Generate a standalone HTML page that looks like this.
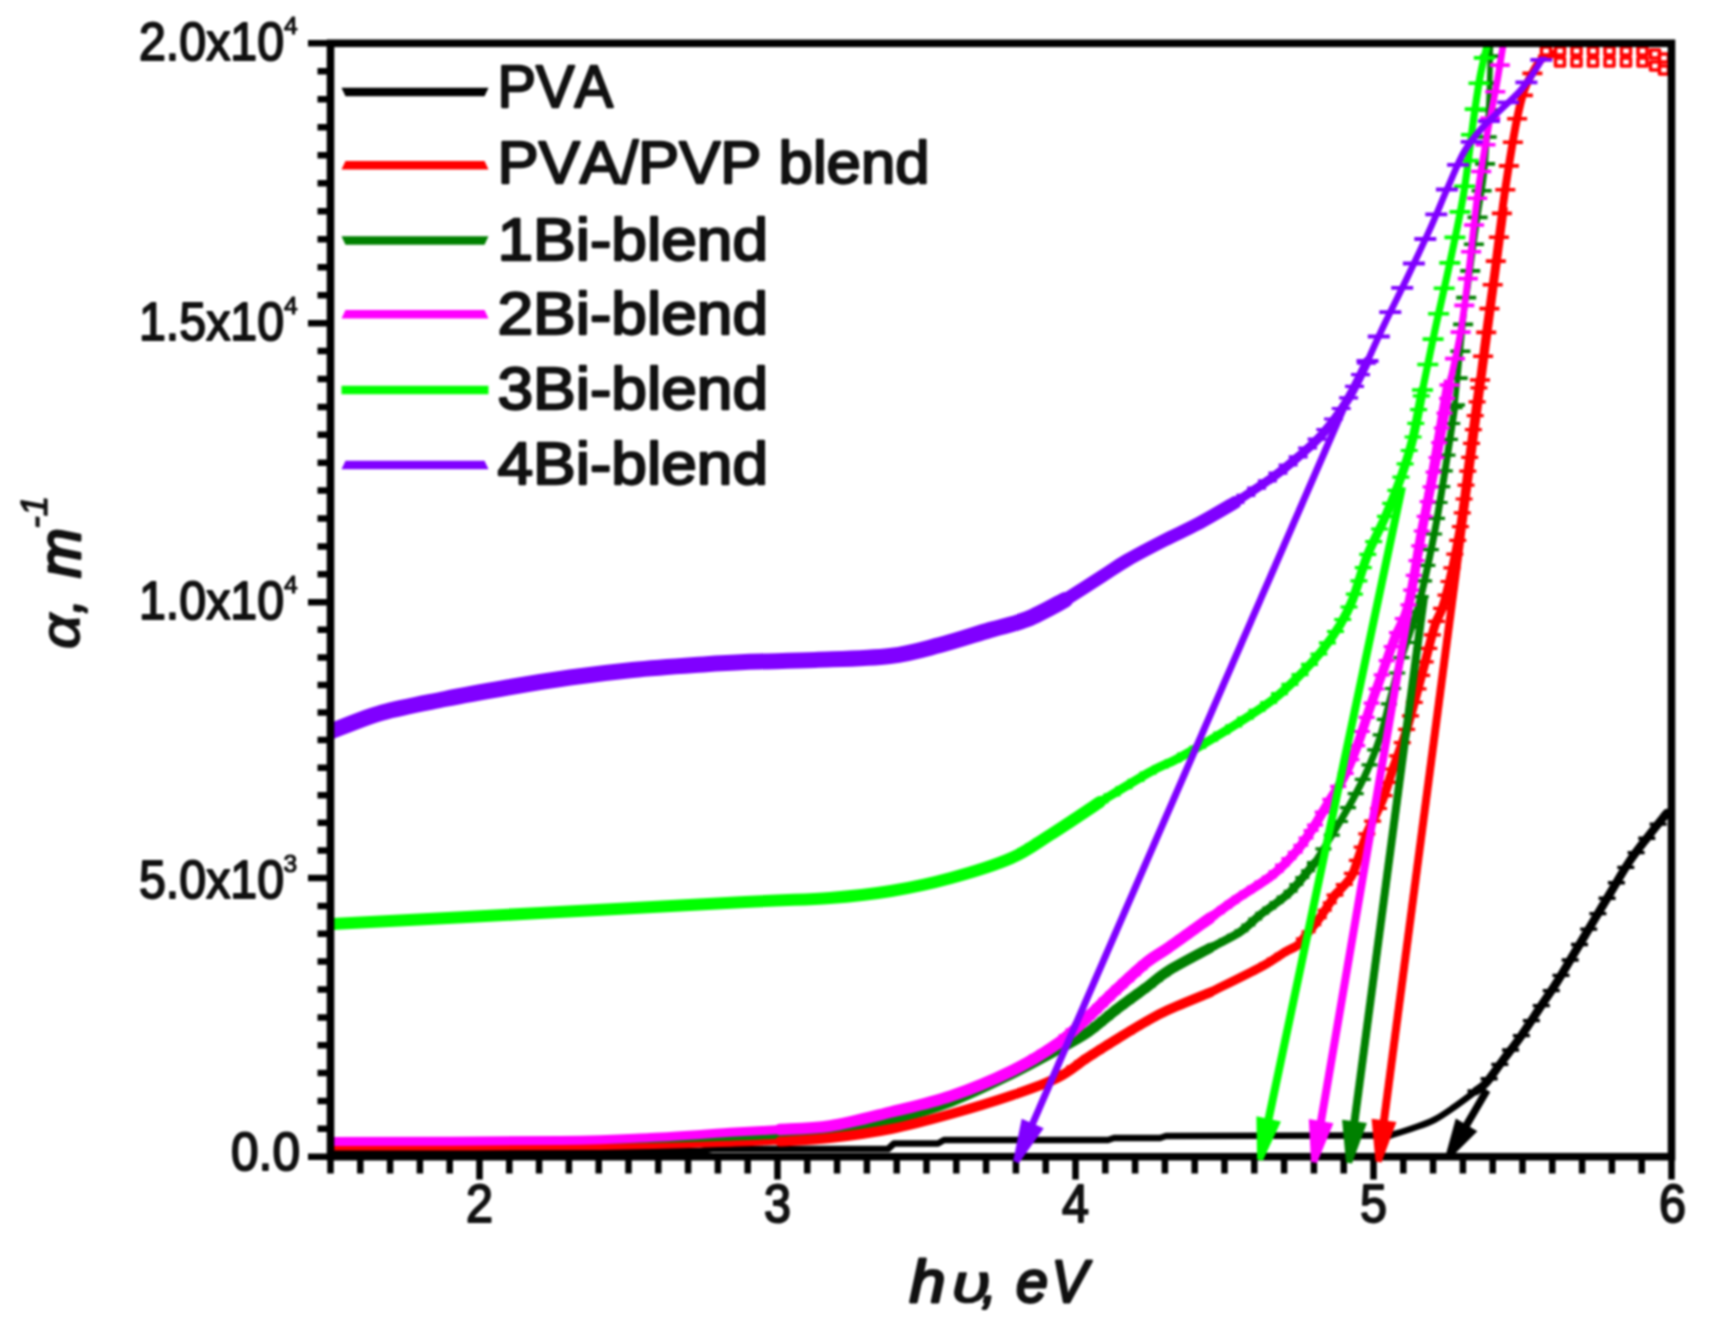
<!DOCTYPE html>
<html><head><meta charset="utf-8"><title>Absorption coefficient plot</title>
<style>
html,body{margin:0;padding:0;background:#fff}
body{width:1712px;height:1326px;overflow:hidden}
svg{display:block}
text{font-family:"Liberation Sans",sans-serif;fill:#111}
.lg{font-size:60px;font-kerning:none;stroke:#111;stroke-width:2.3px;stroke-linejoin:round}
.tk{font-size:53px;stroke:#111;stroke-width:2px;stroke-linejoin:round}
.sp{font-size:24.5px;stroke:#111;stroke-width:1.2px}
.ti{font-size:60px;font-style:italic;stroke:#111;stroke-width:2.8px;stroke-linejoin:round}
.gr{font-size:55px;stroke-width:1.7px}
.cm{font-size:50px}
.ts{font-size:37px;font-style:italic;stroke:#111;stroke-width:1.3px}
</style></head><body>
<svg width="1712" height="1326" viewBox="0 0 1712 1326">
<rect width="1712" height="1326" fill="#fff"/>
<defs><filter id="soft" x="0" y="0" width="1712" height="1326" filterUnits="userSpaceOnUse" color-interpolation-filters="sRGB"><feGaussianBlur stdDeviation="0.9"/></filter><clipPath id="cp"><rect x="330.5" y="43.3" width="1341" height="1117.4"/></clipPath></defs>
<g filter="url(#soft)">
<rect width="1712" height="1326" fill="#fff"/>
<g clip-path="url(#cp)" fill="none" stroke-linejoin="round" stroke-linecap="round">
<path d="M332.0 1151.0 L700.0 1151.0 L712.0 1149.0 L888.0 1149.0 L894.0 1143.5 L938.0 1143.5 L944.0 1140.0 L1108.0 1140.0 L1114.0 1138.0 L1160.0 1138.0 L1166.0 1136.0 L1390.0 1135.5" stroke="#000" stroke-width="6.5"/>
<path d="M1390.0 1135.5 C1393.7 1134.3 1404.7 1131.1 1412.0 1128.5 C1419.3 1125.9 1426.8 1123.7 1434.0 1120.0 C1441.2 1116.3 1448.0 1111.3 1455.0 1106.5 C1462.0 1101.7 1472.5 1093.6 1476.0 1091.0" stroke="#000" stroke-width="6.5"/>
<path d="M1476.0 1091.0 C1477.7 1089.7 1481.6 1088.0 1486.0 1083.0 C1490.4 1078.0 1496.8 1068.4 1502.6 1060.7 C1508.4 1053.0 1514.7 1045.1 1520.7 1036.6 C1526.7 1028.0 1532.8 1018.5 1538.8 1009.4 C1544.8 1000.3 1551.0 991.6 1557.0 982.0 C1563.0 972.4 1569.0 962.0 1575.0 952.0 C1581.0 942.0 1587.0 931.9 1593.0 921.9 C1599.0 911.9 1604.9 901.8 1611.0 891.7 C1617.1 881.6 1623.3 870.6 1629.4 861.5 C1635.5 852.4 1641.2 845.4 1647.5 837.3 C1653.8 829.2 1663.8 817.0 1667.0 813.0" stroke="#000" stroke-width="8.5"/>
<path d="M1467.5 1091.0 h17.0 M1480.6 1078.8 h17.0 M1491.3 1064.4 h17.0 M1502.1 1050.0 h17.0 M1512.9 1035.6 h17.0 M1522.9 1020.6 h17.0 M1532.8 1005.6 h17.0 M1542.8 990.6 h17.0 M1552.5 975.4 h17.0 M1561.7 960.0 h17.0 M1571.0 944.5 h17.0 M1580.2 929.1 h17.0 M1589.4 913.6 h17.0 M1598.6 898.2 h17.0 M1607.9 882.8 h17.0 M1617.3 867.4 h17.0 M1627.6 852.6 h17.0 M1638.3 838.2 h17.0 M1649.6 824.1 h17.0" stroke="#000" stroke-width="3.4" fill="none" stroke-linecap="butt"/>
<path d="M332.0 1146.0 C385.0 1145.5 582.8 1144.2 650.0 1143.0 C717.2 1141.8 713.3 1139.6 735.0 1138.5 C756.7 1137.4 772.5 1136.8 780.0 1136.5" stroke="#008000" stroke-width="6"/>
<path d="M780.0 1136.5 C788.3 1135.9 811.5 1135.8 830.0 1133.0 C848.5 1130.2 870.8 1125.2 891.0 1120.0 C911.2 1114.8 930.9 1109.2 951.0 1101.5 C971.1 1093.8 993.8 1082.6 1011.5 1074.0 C1029.2 1065.4 1044.4 1056.8 1057.0 1050.0 C1069.6 1043.2 1077.0 1039.8 1087.0 1033.0 C1097.0 1026.2 1107.0 1016.7 1117.0 1009.0 C1127.0 1001.3 1138.5 993.3 1147.0 987.0 C1155.5 980.7 1157.5 977.5 1168.0 971.0 C1178.5 964.5 1203.0 951.8 1210.0 948.0" stroke="#008000" stroke-width="10.5"/>
<path d="M1210.0 948.0 C1215.0 945.3 1231.7 937.5 1240.0 932.0 C1248.3 926.5 1251.7 921.7 1260.0 915.0 C1268.3 908.3 1280.8 900.8 1290.0 892.0 C1299.2 883.2 1310.8 867.4 1315.0 862.5" stroke="#008000" stroke-width="8.5"/>
<path d="M997.0 1077.2 h15.0 M1005.1 1073.4 h15.0 M1013.1 1069.2 h15.0 M1021.0 1065.0 h15.0 M1029.0 1060.8 h15.0 M1037.0 1056.6 h15.0 M1044.9 1052.4 h15.0 M1052.8 1048.1 h15.0 M1060.7 1043.7 h15.0 M1068.5 1039.2 h15.0 M1076.3 1034.8 h15.0 M1083.7 1029.7 h15.0 M1090.7 1024.0 h15.0 M1097.7 1018.4 h15.0 M1104.8 1012.8 h15.0 M1111.9 1007.3 h15.0 M1119.1 1002.0 h15.0 M1126.4 996.6 h15.0 M1133.6 991.3 h15.0 M1140.9 986.0 h15.0 M1148.0 980.5 h15.0 M1155.2 975.0 h15.0 M1162.5 969.9 h15.0 M1170.4 965.6 h15.0 M1178.3 961.2 h15.0 M1186.2 956.9 h15.0 M1194.1 952.6 h15.0 M1202.0 948.3 h15.0" stroke="#008000" stroke-width="3" fill="none" stroke-linecap="butt"/>
<path d="M1203.0 948.0 h14.0 M1210.9 943.8 h14.0 M1218.9 939.5 h14.0 M1226.8 935.3 h14.0 M1234.5 930.7 h14.0 M1241.4 924.9 h14.0 M1248.2 919.0 h14.0 M1255.2 913.3 h14.0 M1262.3 907.9 h14.0 M1269.5 902.4 h14.0 M1276.6 896.9 h14.0 M1283.6 891.3 h14.0 M1289.4 884.4 h14.0 M1295.3 877.5 h14.0 M1301.1 870.7 h14.0 M1306.9 863.8 h14.0" stroke="#008000" stroke-width="3" fill="none" stroke-linecap="butt"/>
<path d="M1315.0 862.5 C1318.3 857.1 1328.8 840.4 1335.0 830.0 C1341.2 819.6 1347.1 810.0 1352.5 800.0 C1357.9 790.0 1362.9 780.4 1367.5 770.0 C1372.1 759.6 1376.2 749.2 1380.0 737.5 C1383.8 725.8 1386.7 712.5 1390.0 700.0 C1393.3 687.5 1396.7 673.8 1400.0 662.5 C1403.3 651.2 1406.7 642.9 1410.0 632.5 C1413.3 622.1 1415.8 617.1 1420.0 600.0 C1424.2 582.9 1430.4 554.2 1435.0 530.0 C1439.6 505.8 1444.2 475.8 1447.5 455.0 C1450.8 434.2 1453.8 413.3 1455.0 405.0" stroke="#008000" stroke-width="7"/>
<path d="M1455.0 405.0 C1455.8 396.7 1458.3 371.7 1460.0 355.0 C1461.7 338.3 1463.7 316.3 1465.0 305.0 C1466.3 293.7 1465.9 301.7 1468.0 287.0 C1470.1 272.3 1474.9 236.5 1477.7 217.0 C1480.5 197.5 1482.8 189.5 1484.7 170.0 C1486.6 150.5 1488.0 120.7 1489.0 100.0 C1490.0 79.3 1490.2 55.0 1490.5 46.0" stroke="#008000" stroke-width="5.5"/>
<path d="M1307.0 862.5 h16.0 M1315.4 848.9 h16.0 M1323.8 835.2 h16.0 M1332.0 821.5 h16.0 M1340.0 807.7 h16.0 M1347.7 793.6 h16.0 M1354.8 779.3 h16.0 M1361.5 764.8 h16.0 M1367.2 749.9 h16.0 M1372.7 734.8 h16.0 M1376.8 719.4 h16.0 M1381.0 703.9 h16.0 M1385.1 688.5 h16.0 M1389.2 673.0 h16.0 M1393.6 657.6 h16.0 M1398.7 642.5 h16.0 M1403.6 627.2 h16.0 M1408.3 611.9 h16.0 M1412.7 596.6 h16.0 M1416.1 580.9 h16.0 M1419.4 565.3 h16.0 M1422.8 549.6 h16.0 M1426.1 534.0 h16.0 M1429.0 518.3 h16.0 M1431.6 502.5 h16.0 M1434.2 486.7 h16.0 M1436.8 470.9 h16.0 M1439.5 455.1 h16.0 M1441.9 439.3 h16.0 M1444.2 423.5 h16.0 M1446.6 407.7 h16.0" stroke="#008000" stroke-width="3.2" fill="none" stroke-linecap="butt"/>
<path d="M1445.0 405.0 h20.0 M1447.7 378.1 h20.0 M1450.4 351.3 h20.0 M1453.1 324.4 h20.0 M1456.2 297.6 h20.0 M1460.2 270.9 h20.0 M1463.9 244.2 h20.0 M1467.6 217.4 h20.0 M1471.6 190.7 h20.0 M1475.1 163.9 h20.0 M1476.7 137.0 h20.0 M1478.4 110.0 h20.0 M1479.5 83.1 h20.0 M1480.2 56.1 h20.0" stroke="#008000" stroke-width="3.6" fill="none" stroke-linecap="butt"/>
<path d="M332.0 1147.5 C376.7 1147.4 532.8 1147.7 600.0 1147.0 C667.2 1146.3 705.0 1144.4 735.0 1143.5 C765.0 1142.6 772.5 1141.8 780.0 1141.5" stroke="#ff0000" stroke-width="6"/>
<path d="M780.0 1141.5 C788.3 1140.9 811.5 1140.1 830.0 1138.0 C848.5 1135.9 870.8 1133.0 891.0 1129.0 C911.2 1125.0 930.9 1119.6 951.0 1114.0 C971.1 1108.4 993.8 1101.5 1011.5 1095.5 C1029.2 1089.5 1044.4 1084.2 1057.0 1078.0 C1069.6 1071.8 1077.0 1064.5 1087.0 1058.0 C1097.0 1051.5 1107.0 1045.2 1117.0 1039.0 C1127.0 1032.8 1138.5 1025.8 1147.0 1021.0 C1155.5 1016.2 1157.5 1014.8 1168.0 1010.0 C1178.5 1005.2 1203.0 995.4 1210.0 992.5" stroke="#ff0000" stroke-width="10"/>
<path d="M1210.0 992.5 C1218.3 988.3 1247.5 974.2 1260.0 967.5 C1272.5 960.8 1278.7 955.8 1285.0 952.0 C1291.3 948.2 1294.5 947.8 1298.0 945.0 C1301.5 942.2 1302.5 939.3 1306.0 935.0 C1309.5 930.7 1314.2 925.7 1319.0 919.0 C1323.8 912.3 1332.3 899.0 1335.0 895.0" stroke="#ff0000" stroke-width="9"/>
<path d="M992.6 1099.0 h15.0 M1001.2 1096.3 h15.0 M1009.7 1093.3 h15.0 M1018.1 1090.1 h15.0 M1026.5 1086.8 h15.0 M1034.9 1083.6 h15.0 M1043.3 1080.4 h15.0 M1051.5 1076.7 h15.0 M1058.9 1071.7 h15.0 M1066.4 1066.7 h15.0 M1073.9 1061.7 h15.0 M1081.4 1056.8 h15.0 M1089.0 1052.0 h15.0 M1096.7 1047.1 h15.0 M1104.3 1042.3 h15.0 M1111.9 1037.6 h15.0 M1119.6 1032.9 h15.0 M1127.3 1028.3 h15.0 M1135.0 1023.7 h15.0 M1142.9 1019.2 h15.0 M1150.8 1015.1 h15.0 M1158.8 1010.9 h15.0 M1167.1 1007.3 h15.0 M1175.4 1003.8 h15.0 M1183.7 1000.3 h15.0 M1192.0 996.9 h15.0 M1200.3 993.4 h15.0" stroke="#ff0000" stroke-width="3" fill="none" stroke-linecap="butt"/>
<path d="M1203.0 992.5 h14.0 M1211.0 988.5 h14.0 M1219.1 984.5 h14.0 M1227.1 980.4 h14.0 M1235.2 976.4 h14.0 M1243.2 972.4 h14.0 M1251.3 968.4 h14.0 M1259.0 963.8 h14.0 M1266.7 959.0 h14.0 M1274.3 954.3 h14.0 M1282.1 949.8 h14.0 M1290.0 945.5 h14.0 M1295.9 938.8 h14.0 M1301.6 931.8 h14.0 M1307.3 924.8 h14.0 M1312.8 917.8 h14.0 M1317.8 910.3 h14.0 M1322.8 902.8 h14.0 M1327.8 895.3 h14.0" stroke="#ff0000" stroke-width="3" fill="none" stroke-linecap="butt"/>
<path d="M1335.0 895.0 C1337.7 892.0 1347.0 883.5 1351.0 877.0 C1355.0 870.5 1356.2 863.5 1359.0 856.0 C1361.8 848.5 1363.6 841.3 1367.5 832.0 C1371.4 822.7 1378.3 810.3 1382.5 800.0 C1386.7 789.7 1388.8 780.8 1392.5 770.0 C1396.2 759.2 1401.2 746.7 1405.0 735.0 C1408.8 723.3 1411.7 712.1 1415.0 700.0 C1418.3 687.9 1421.7 675.0 1425.0 662.5 C1428.3 650.0 1431.7 635.4 1435.0 625.0 C1438.3 614.6 1440.8 615.8 1445.0 600.0 C1449.2 584.2 1455.8 554.2 1460.0 530.0 C1464.2 505.8 1466.7 480.0 1470.0 455.0 C1473.3 430.0 1478.3 392.5 1480.0 380.0" stroke="#ff0000" stroke-width="9"/>
<path d="M1480.0 380.0 C1481.2 370.3 1485.2 339.4 1487.5 322.0 C1489.8 304.6 1491.4 295.0 1494.0 275.5 C1496.6 256.0 1500.3 224.5 1503.0 205.0 C1505.7 185.5 1507.7 172.9 1510.0 158.6 C1512.3 144.3 1514.7 130.3 1517.0 119.0 C1519.3 107.7 1521.2 99.2 1524.0 91.0 C1526.8 82.8 1530.8 75.5 1534.0 70.0 C1537.2 64.5 1539.2 60.8 1543.0 58.0 C1546.8 55.2 1554.7 53.8 1557.0 53.0" stroke="#ff0000" stroke-width="8"/>
<path d="M1326.5 895.0 h17.0 M1335.8 884.5 h17.0 M1343.9 873.3 h17.0 M1348.9 860.3 h17.0 M1353.7 847.1 h17.0 M1358.3 833.9 h17.0 M1364.1 821.1 h17.0 M1370.0 808.5 h17.0 M1375.5 795.6 h17.0 M1379.9 782.3 h17.0 M1384.3 769.0 h17.0 M1389.1 755.9 h17.0 M1393.8 742.7 h17.0 M1398.1 729.4 h17.0 M1402.0 715.9 h17.0 M1405.8 702.4 h17.0 M1409.5 688.9 h17.0 M1413.1 675.4 h17.0 M1416.7 661.9 h17.0 M1420.3 648.4 h17.0 M1423.9 634.8 h17.0 M1427.9 621.4 h17.0 M1433.1 608.4 h17.0 M1437.5 595.2 h17.0 M1440.5 581.5 h17.0 M1443.4 567.8 h17.0 M1446.3 554.1 h17.0 M1449.3 540.4 h17.0 M1451.9 526.7 h17.0 M1453.8 512.8 h17.0 M1455.6 499.0 h17.0 M1457.5 485.1 h17.0 M1459.3 471.2 h17.0 M1461.2 457.3 h17.0 M1463.0 443.4 h17.0 M1464.9 429.6 h17.0 M1466.7 415.7 h17.0 M1468.6 401.8 h17.0 M1470.4 387.9 h17.0" stroke="#ff0000" stroke-width="3.2" fill="none" stroke-linecap="butt"/>
<path d="M1470.0 380.0 h20.0 M1473.1 356.2 h20.0 M1476.2 332.4 h20.0 M1479.4 308.6 h20.0 M1482.7 284.8 h20.0 M1485.8 261.1 h20.0 M1488.9 237.2 h20.0 M1491.9 213.4 h20.0 M1495.3 189.7 h20.0 M1498.9 165.9 h20.0 M1502.9 142.3 h20.0 M1507.1 118.7 h20.0 M1512.9 95.4 h20.0 M1522.4 73.4 h20.0 M1537.9 56.2 h20.0" stroke="#ff0000" stroke-width="3.6" fill="none" stroke-linecap="butt"/>
<path d="M332.0 1141.5 C370.0 1141.3 507.0 1141.2 560.0 1140.5 C613.0 1139.8 620.8 1138.9 650.0 1137.5 C679.2 1136.1 713.3 1133.3 735.0 1132.0 C756.7 1130.7 772.5 1129.9 780.0 1129.5" stroke="#ff00ff" stroke-width="9"/>
<path d="M780.0 1129.5 C788.3 1128.9 811.5 1128.9 830.0 1126.0 C848.5 1123.1 870.8 1117.0 891.0 1112.0 C911.2 1107.0 930.9 1102.8 951.0 1096.0 C971.1 1089.2 993.8 1079.7 1011.5 1071.0 C1029.2 1062.3 1044.4 1052.8 1057.0 1044.0 C1069.6 1035.2 1077.0 1027.2 1087.0 1018.0 C1097.0 1008.8 1107.0 998.3 1117.0 989.0 C1127.0 979.7 1138.5 968.8 1147.0 962.0 C1155.5 955.2 1157.5 955.3 1168.0 948.0 C1178.5 940.7 1203.0 923.0 1210.0 918.0" stroke="#ff00ff" stroke-width="11.5"/>
<path d="M1210.0 918.0 C1214.2 915.0 1224.6 907.2 1235.0 900.0 C1245.4 892.8 1262.1 883.3 1272.5 875.0 C1282.9 866.7 1290.4 858.3 1297.5 850.0 C1304.6 841.7 1312.1 829.2 1315.0 825.0" stroke="#ff00ff" stroke-width="9.5"/>
<path d="M997.7 1073.4 h16.0 M1005.9 1069.6 h16.0 M1013.6 1065.0 h16.0 M1021.3 1060.4 h16.0 M1029.1 1055.8 h16.0 M1036.8 1051.2 h16.0 M1044.5 1046.6 h16.0 M1051.9 1041.5 h16.0 M1058.7 1035.6 h16.0 M1065.5 1029.7 h16.0 M1072.3 1023.8 h16.0 M1079.1 1017.9 h16.0 M1085.6 1011.7 h16.0 M1092.0 1005.4 h16.0 M1098.5 999.1 h16.0 M1105.0 992.9 h16.0 M1111.5 986.7 h16.0 M1118.2 980.7 h16.0 M1124.9 974.7 h16.0 M1131.6 968.7 h16.0 M1138.3 962.6 h16.0 M1145.7 957.5 h16.0 M1153.2 952.5 h16.0 M1160.7 947.5 h16.0 M1168.0 942.3 h16.0 M1175.3 937.1 h16.0 M1182.6 931.8 h16.0 M1189.9 926.6 h16.0 M1197.3 921.4 h16.0" stroke="#ff00ff" stroke-width="3" fill="none" stroke-linecap="butt"/>
<path d="M1202.5 918.0 h15.0 M1209.8 912.7 h15.0 M1217.1 907.5 h15.0 M1224.4 902.2 h15.0 M1231.8 897.1 h15.0 M1239.3 892.1 h15.0 M1246.8 887.1 h15.0 M1254.3 882.1 h15.0 M1261.8 877.1 h15.0 M1268.6 871.4 h15.0 M1275.0 865.0 h15.0 M1281.4 858.6 h15.0 M1287.7 852.3 h15.0 M1293.3 845.3 h15.0 M1298.5 837.9 h15.0 M1303.6 830.5 h15.0" stroke="#ff00ff" stroke-width="3" fill="none" stroke-linecap="butt"/>
<path d="M1315.0 825.0 C1317.5 820.8 1325.0 808.3 1330.0 800.0 C1335.0 791.7 1340.4 784.2 1345.0 775.0 C1349.6 765.8 1353.3 756.2 1357.5 745.0 C1361.7 733.8 1365.8 719.6 1370.0 707.5 C1374.2 695.4 1378.3 684.2 1382.5 672.5 C1386.7 660.8 1390.7 648.8 1395.0 637.5 C1399.3 626.2 1404.0 622.9 1408.5 605.0 C1413.0 587.1 1417.2 555.0 1422.0 530.0 C1426.8 505.0 1432.4 479.2 1437.0 455.0 C1441.6 430.8 1447.4 396.7 1449.5 385.0" stroke="#ff00ff" stroke-width="9.5"/>
<path d="M1449.5 385.0 C1451.4 375.8 1457.8 349.2 1461.0 330.0 C1464.2 310.8 1466.2 292.7 1469.0 270.0 C1471.8 247.3 1474.7 216.5 1477.7 194.0 C1480.7 171.5 1484.0 152.7 1487.0 135.0 C1490.0 117.3 1493.3 102.8 1496.0 88.0 C1498.7 73.2 1501.8 53.0 1503.0 46.0" stroke="#ff00ff" stroke-width="6.8"/>
<path d="M1307.0 825.0 h16.0 M1314.7 812.1 h16.0 M1322.4 799.3 h16.0 M1330.2 786.4 h16.0 M1337.7 773.4 h16.0 M1343.4 759.6 h16.0 M1349.2 745.7 h16.0 M1354.0 731.5 h16.0 M1358.7 717.3 h16.0 M1363.6 703.1 h16.0 M1368.6 689.0 h16.0 M1373.7 674.9 h16.0 M1378.7 660.7 h16.0 M1383.7 646.6 h16.0 M1389.0 632.6 h16.0 M1394.8 618.7 h16.0 M1400.5 604.9 h16.0 M1403.2 590.1 h16.0 M1405.8 575.3 h16.0 M1408.5 560.6 h16.0 M1411.2 545.8 h16.0 M1413.8 531.0 h16.0 M1416.7 516.3 h16.0 M1419.7 501.6 h16.0 M1422.6 486.9 h16.0 M1425.6 472.2 h16.0 M1428.5 457.5 h16.0 M1431.2 442.7 h16.0 M1433.8 428.0 h16.0 M1436.5 413.2 h16.0 M1439.1 398.4 h16.0" stroke="#ff00ff" stroke-width="3.2" fill="none" stroke-linecap="butt"/>
<path d="M1439.5 385.0 h20.0 M1445.0 358.6 h20.0 M1450.6 332.1 h20.0 M1454.3 305.4 h20.0 M1457.8 278.6 h20.0 M1461.1 251.8 h20.0 M1464.1 225.0 h20.0 M1467.2 198.2 h20.0 M1471.2 171.5 h20.0 M1475.5 144.8 h20.0 M1480.2 118.2 h20.0 M1485.3 91.7 h20.0 M1489.8 65.1 h20.0" stroke="#ff00ff" stroke-width="3.6" fill="none" stroke-linecap="butt"/>
<path d="M332.0 924.0 C366.7 922.2 471.2 916.7 540.0 913.0 C608.8 909.3 696.7 904.5 745.0 902.0 C793.3 899.5 805.7 899.8 830.0 898.0 C854.3 896.2 870.8 894.3 891.0 891.0 C911.2 887.7 930.9 883.5 951.0 878.0 C971.1 872.5 995.0 865.2 1011.5 858.0 C1028.0 850.8 1035.2 844.3 1050.0 835.0 C1064.8 825.7 1091.7 807.5 1100.0 802.0" stroke="#00ff00" stroke-width="12"/>
<path d="M976.2 866.8 h17.0 M984.8 864.0 h17.0 M993.3 861.2 h17.0 M1001.9 858.4 h17.0 M1009.7 854.0 h17.0 M1017.4 849.4 h17.0 M1025.2 844.8 h17.0 M1032.9 840.1 h17.0 M1040.6 835.5 h17.0 M1048.1 830.6 h17.0 M1055.7 825.7 h17.0 M1063.2 820.7 h17.0 M1070.7 815.7 h17.0 M1078.2 810.8 h17.0 M1085.7 805.8 h17.0" stroke="#00ff00" stroke-width="3" fill="none" stroke-linecap="butt"/>
<path d="M1100.0 802.0 C1108.3 797.0 1137.5 779.0 1150.0 772.0 C1162.5 765.0 1167.1 764.1 1175.0 760.0 C1182.9 755.9 1187.5 753.3 1197.5 747.5 C1207.5 741.7 1222.5 732.9 1235.0 725.0 C1247.5 717.1 1262.1 707.9 1272.5 700.0 C1282.9 692.1 1289.2 685.8 1297.5 677.5 C1305.8 669.2 1315.4 658.8 1322.5 650.0 C1329.6 641.2 1335.0 633.3 1340.0 625.0 C1345.0 616.7 1347.9 611.7 1352.5 600.0 C1357.1 588.3 1362.1 568.8 1367.5 555.0 C1372.9 541.2 1379.6 530.0 1385.0 517.5 C1390.4 505.0 1395.4 492.9 1400.0 480.0 C1404.6 467.1 1408.8 455.0 1412.5 440.0 C1416.2 425.0 1420.8 398.3 1422.5 390.0" stroke="#00ff00" stroke-width="9"/>
<path d="M1422.5 390.0 C1424.6 380.0 1430.5 351.0 1435.0 330.0 C1439.5 309.0 1444.8 286.7 1449.6 264.0 C1454.4 241.3 1459.7 217.4 1463.6 194.0 C1467.5 170.6 1470.3 143.0 1473.0 123.5 C1475.7 104.0 1477.7 89.9 1480.0 77.0 C1482.3 64.1 1485.8 51.2 1487.0 46.0" stroke="#00ff00" stroke-width="7.2"/>
<path d="M1091.5 802.0 h17.0 M1103.5 794.8 h17.0 M1115.5 787.6 h17.0 M1127.5 780.4 h17.0 M1139.5 773.2 h17.0 M1152.0 766.9 h17.0 M1164.7 760.9 h17.0 M1177.0 754.2 h17.0 M1189.2 747.4 h17.0 M1201.2 740.2 h17.0 M1213.2 733.0 h17.0 M1225.2 725.8 h17.0 M1236.9 718.1 h17.0 M1248.5 710.3 h17.0 M1260.2 702.5 h17.0 M1271.0 693.7 h17.0 M1281.4 684.3 h17.0 M1291.5 674.7 h17.0 M1301.0 664.3 h17.0 M1310.4 654.0 h17.0 M1318.9 642.9 h17.0 M1327.0 631.5 h17.0 M1334.2 619.5 h17.0 M1340.5 607.0 h17.0 M1345.9 594.2 h17.0 M1350.4 580.9 h17.0 M1354.8 567.6 h17.0 M1359.3 554.3 h17.0 M1365.2 541.7 h17.0 M1371.1 529.0 h17.0 M1377.0 516.3 h17.0 M1382.2 503.3 h17.0 M1387.4 490.3 h17.0 M1392.4 477.2 h17.0 M1396.6 463.8 h17.0 M1400.7 450.5 h17.0 M1404.6 437.0 h17.0 M1407.3 423.3 h17.0 M1410.1 409.6 h17.0 M1412.8 395.8 h17.0" stroke="#00ff00" stroke-width="3.2" fill="none" stroke-linecap="butt"/>
<path d="M1412.0 390.0 h21.0 M1417.3 364.5 h21.0 M1422.6 339.1 h21.0 M1428.1 313.7 h21.0 M1433.7 288.3 h21.0 M1439.3 262.9 h21.0 M1444.4 237.4 h21.0 M1449.5 211.9 h21.0 M1454.1 186.3 h21.0 M1457.6 160.6 h21.0 M1461.0 134.8 h21.0 M1464.7 109.1 h21.0 M1468.5 83.3 h21.0 M1473.8 57.9 h21.0" stroke="#00ff00" stroke-width="3.6" fill="none" stroke-linecap="butt"/>
<path d="M332.0 731.0 C340.4 727.9 363.7 717.8 382.5 712.5 C401.3 707.2 424.2 703.2 445.0 699.0 C465.8 694.8 486.7 691.1 507.5 687.5 C528.3 683.9 549.2 680.4 570.0 677.5 C590.8 674.6 611.7 672.1 632.5 670.0 C653.3 667.9 676.2 666.3 695.0 665.0 C713.8 663.7 725.0 662.8 745.0 662.0 C765.0 661.2 790.8 661.0 815.0 660.0 C839.2 659.0 869.2 658.5 890.0 656.0 C910.8 653.5 923.3 649.3 940.0 645.0 C956.7 640.7 975.4 634.3 990.0 630.0 C1004.6 625.7 1015.0 624.0 1027.5 619.0 C1040.0 614.0 1058.8 603.2 1065.0 600.0" stroke="#8000ff" stroke-width="16"/>
<path d="M1065.0 600.0 C1071.2 596.0 1092.1 582.7 1102.5 576.0 C1112.9 569.3 1117.1 566.0 1127.5 560.0 C1137.9 554.0 1153.3 546.0 1165.0 540.0 C1176.7 534.0 1185.8 530.2 1197.5 524.0 C1209.2 517.8 1228.8 506.1 1235.0 502.5" stroke="#8000ff" stroke-width="13"/>
<path d="M1056.0 600.0 h18.0 M1063.6 595.1 h18.0 M1071.2 590.3 h18.0 M1078.7 585.4 h18.0 M1086.3 580.6 h18.0 M1093.9 575.7 h18.0 M1101.5 570.9 h18.0 M1109.1 566.0 h18.0 M1116.6 561.2 h18.0 M1124.5 556.8 h18.0 M1132.4 552.6 h18.0 M1140.4 548.3 h18.0 M1148.3 544.1 h18.0 M1156.3 539.9 h18.0 M1164.3 535.9 h18.0 M1172.4 531.9 h18.0 M1180.5 527.9 h18.0 M1188.6 524.0 h18.0 M1196.4 519.5 h18.0 M1204.2 515.0 h18.0 M1212.0 510.5 h18.0 M1219.8 506.1 h18.0" stroke="#8000ff" stroke-width="3" fill="none" stroke-linecap="butt"/>
<path d="M1235.0 502.5 C1241.2 498.3 1262.1 485.0 1272.5 477.5 C1282.9 470.0 1289.2 464.8 1297.5 457.5 C1305.8 450.2 1314.2 443.6 1322.5 434.0 C1330.8 424.4 1340.0 412.2 1347.5 400.0 C1355.0 387.8 1364.2 367.5 1367.5 361.0" stroke="#8000ff" stroke-width="9"/>
<path d="M1367.5 361.0 C1370.4 354.7 1378.2 337.2 1385.0 323.0 C1391.8 308.8 1400.5 291.7 1408.0 276.0 C1415.5 260.3 1423.3 243.8 1430.0 229.0 C1436.7 214.2 1442.3 199.8 1448.0 187.0 C1453.7 174.2 1458.3 161.8 1464.0 152.0 C1469.7 142.2 1475.8 135.1 1482.0 128.0 C1488.2 120.9 1494.7 115.7 1501.0 109.5 C1507.3 103.3 1514.5 97.2 1520.0 91.0 C1525.5 84.8 1529.3 79.0 1534.0 72.0 C1538.7 65.0 1545.7 52.8 1548.0 49.0" stroke="#8000ff" stroke-width="6.6"/>
<path d="M1225.5 502.5 h19.0 M1236.3 495.3 h19.0 M1247.1 488.1 h19.0 M1257.9 480.9 h19.0 M1268.4 473.2 h19.0 M1278.6 465.0 h19.0 M1288.7 456.9 h19.0 M1298.1 448.0 h19.0 M1307.6 439.1 h19.0 M1316.3 429.5 h19.0 M1324.0 419.0 h19.0 M1331.7 408.5 h19.0 M1339.1 397.9 h19.0 M1345.0 386.3 h19.0 M1351.0 374.7 h19.0 M1356.9 363.2 h19.0" stroke="#8000ff" stroke-width="3.2" fill="none" stroke-linecap="butt"/>
<path d="M1356.5 361.0 h22.0 M1367.8 336.5 h22.0 M1379.3 312.1 h22.0 M1391.2 287.8 h22.0 M1402.9 263.5 h22.0 M1414.3 239.0 h22.0 M1425.3 214.3 h22.0 M1435.9 189.5 h22.0 M1447.1 164.9 h22.0 M1460.7 141.8 h22.0 M1478.0 121.2 h22.0 M1497.3 102.4 h22.0 M1515.4 82.4 h22.0 M1530.3 59.9 h22.0" stroke="#8000ff" stroke-width="3.8" fill="none" stroke-linecap="butt"/>
<path d="M1487.0 1090.0 L1464.6 1128.4" stroke="#000" stroke-width="7.5" stroke-linecap="butt"/>
<path d="M1504.0 207.0 L1383.5 1124.3" stroke="#ff0000" stroke-width="8" stroke-linecap="butt"/>
<path d="M1424.0 597.0 L1354.0 1125.3" stroke="#008000" stroke-width="8" stroke-linecap="butt"/>
<path d="M1448.0 380.0 L1320.4 1125.0" stroke="#ff00ff" stroke-width="8" stroke-linecap="butt"/>
<path d="M1402.0 487.0 L1267.8 1122.8" stroke="#00ff00" stroke-width="8" stroke-linecap="butt"/>
<path d="M1345.0 405.0 L1031.1 1127.1" stroke="#8000ff" stroke-width="7" stroke-linecap="butt"/>
<g stroke="#ff0000" stroke-width="3.6" fill="#fff"><rect x="1541.5" y="47" width="9" height="8" /><rect x="1555.5" y="47" width="9" height="8" /><rect x="1555.5" y="58" width="9" height="8" /><rect x="1572.0" y="47" width="9" height="8" /><rect x="1572.0" y="58" width="9" height="8" /><rect x="1588.5" y="47" width="9" height="8" /><rect x="1588.5" y="58" width="9" height="8" /><rect x="1605.0" y="47" width="9" height="8" /><rect x="1605.0" y="58" width="9" height="8" /><rect x="1621.5" y="47" width="9" height="8" /><rect x="1621.5" y="58" width="9" height="8" /><rect x="1638.0" y="47" width="9" height="8" /><rect x="1638.0" y="58" width="9" height="8" /><rect x="1650.5" y="50.0" width="9" height="8" /><rect x="1659.5" y="54.0" width="9" height="8" /><rect x="1650.5" y="62.0" width="9" height="8" /><rect x="1659.5" y="66.0" width="9" height="8" /></g>
</g>
<g stroke="#000" fill="none">
<rect x="330.5" y="43.3" width="1341" height="1113.4" stroke-width="7.6"/>
<path d="M327.2 1156.7 H308.0 M327.2 1128.8 H317.5 M327.2 1101.0 H317.5 M327.2 1073.1 H317.5 M327.2 1045.2 H317.5 M327.2 1017.4 H317.5 M327.2 989.5 H317.5 M327.2 961.6 H317.5 M327.2 933.7 H317.5 M327.2 905.9 H317.5 M327.2 878.0 H308.0 M327.2 850.4 H317.5 M327.2 822.8 H317.5 M327.2 795.3 H317.5 M327.2 767.7 H317.5 M327.2 740.1 H317.5 M327.2 712.5 H317.5 M327.2 684.9 H317.5 M327.2 657.4 H317.5 M327.2 629.8 H317.5 M327.2 602.2 H308.0 M327.2 574.3 H317.5 M327.2 546.4 H317.5 M327.2 518.5 H317.5 M327.2 490.6 H317.5 M327.2 462.7 H317.5 M327.2 434.8 H317.5 M327.2 406.9 H317.5 M327.2 379.0 H317.5 M327.2 351.1 H317.5 M327.2 323.2 H308.0 M327.2 295.2 H317.5 M327.2 267.2 H317.5 M327.2 239.2 H317.5 M327.2 211.2 H317.5 M327.2 183.2 H317.5 M327.2 155.3 H317.5 M327.2 127.3 H317.5 M327.2 99.3 H317.5 M327.2 71.3 H317.5 M327.2 43.3 H308.0" stroke-width="6.5"/>
<path d="M330.5 1160.0 V1173.5 M360.3 1160.0 V1173.5 M390.1 1160.0 V1173.5 M419.9 1160.0 V1173.5 M449.7 1160.0 V1173.5 M479.5 1160.0 V1179.5 M509.3 1160.0 V1173.5 M539.1 1160.0 V1173.5 M568.9 1160.0 V1173.5 M598.7 1160.0 V1173.5 M628.5 1160.0 V1173.5 M658.3 1160.0 V1173.5 M688.1 1160.0 V1173.5 M717.9 1160.0 V1173.5 M747.7 1160.0 V1173.5 M777.5 1160.0 V1179.5 M807.3 1160.0 V1173.5 M837.1 1160.0 V1173.5 M866.9 1160.0 V1173.5 M896.7 1160.0 V1173.5 M926.5 1160.0 V1173.5 M956.3 1160.0 V1173.5 M986.1 1160.0 V1173.5 M1015.9 1160.0 V1173.5 M1045.7 1160.0 V1173.5 M1075.5 1160.0 V1179.5 M1105.3 1160.0 V1173.5 M1135.1 1160.0 V1173.5 M1164.9 1160.0 V1173.5 M1194.7 1160.0 V1173.5 M1224.5 1160.0 V1173.5 M1254.3 1160.0 V1173.5 M1284.1 1160.0 V1173.5 M1313.9 1160.0 V1173.5 M1343.7 1160.0 V1173.5 M1373.5 1160.0 V1179.5 M1403.3 1160.0 V1173.5 M1433.1 1160.0 V1173.5 M1462.9 1160.0 V1173.5 M1492.7 1160.0 V1173.5 M1522.5 1160.0 V1173.5 M1552.3 1160.0 V1173.5 M1582.1 1160.0 V1173.5 M1611.9 1160.0 V1173.5 M1641.7 1160.0 V1173.5 M1671.5 1160.0 V1179.5" stroke-width="6.5"/>
</g>
<polygon points="1445.9,1154.5 1455.8,1118.6 1477.4,1131.2 1451.1,1157.5" fill="#000"/>
<polygon points="1375.5,1161.6 1371.6,1118.7 1396.4,1122.0 1381.5,1162.4" fill="#ff0000"/>
<polygon points="1346.0,1162.6 1342.1,1119.7 1366.9,1123.0 1352.0,1163.4" fill="#008000"/>
<polygon points="1311.0,1162.0 1308.8,1119.0 1333.4,1123.2 1317.0,1163.0" fill="#ff00ff"/>
<polygon points="1257.1,1159.4 1256.4,1116.3 1280.9,1121.5 1262.9,1160.6" fill="#00ff00"/>
<polygon points="1013.2,1160.8 1021.7,1118.7 1043.7,1128.3 1018.8,1163.2" fill="#8000ff"/>
<polygon points="341.5,87.8 488.5,87.8 484.5,96.2 345.5,96.2" fill="#000"/>
<text x="497.5" y="107" class="lg" textLength="115.5" lengthAdjust="spacingAndGlyphs">PVA</text>
<polygon points="345.5,161.1 484.5,161.1 488.5,169.5 341.5,169.5" fill="#ff0000"/>
<text x="497.5" y="182.5" class="lg" textLength="432" lengthAdjust="spacingAndGlyphs">PVA/PVP blend</text>
<polygon points="341.5,236.3 488.5,236.3 484.5,244.7 345.5,244.7" fill="#008000"/>
<text x="497.5" y="259.5" class="lg" textLength="270.5" lengthAdjust="spacingAndGlyphs">1Bi-blend</text>
<polygon points="345.5,310.1 484.5,310.1 488.5,318.5 341.5,318.5" fill="#ff00ff"/>
<text x="497.5" y="333.5" class="lg" textLength="270.5" lengthAdjust="spacingAndGlyphs">2Bi-blend</text>
<polygon points="341.5,385.8 488.5,385.8 488.5,394.2 341.5,394.2" fill="#00ff00"/>
<text x="497.5" y="409" class="lg" textLength="270.5" lengthAdjust="spacingAndGlyphs">3Bi-blend</text>
<polygon points="345.5,460.8 484.5,460.8 488.5,469.2 341.5,469.2" fill="#8000ff"/>
<text x="497.5" y="483.5" class="lg" textLength="270.5" lengthAdjust="spacingAndGlyphs">4Bi-blend</text>
<text class="tk" y="59.7"><tspan x="284" text-anchor="end" textLength="145" lengthAdjust="spacingAndGlyphs">2.0x10</tspan><tspan class="sp" text-anchor="start" x="284" y="33.7">4</tspan></text>
<text class="tk" y="339.9"><tspan x="284" text-anchor="end" textLength="145" lengthAdjust="spacingAndGlyphs">1.5x10</tspan><tspan class="sp" text-anchor="start" x="284" y="313.9">4</tspan></text>
<text class="tk" y="618.7"><tspan x="284" text-anchor="end" textLength="145" lengthAdjust="spacingAndGlyphs">1.0x10</tspan><tspan class="sp" text-anchor="start" x="284" y="592.7">4</tspan></text>
<text class="tk" y="897.7"><tspan x="284" text-anchor="end" textLength="145" lengthAdjust="spacingAndGlyphs">5.0x10</tspan><tspan class="sp" text-anchor="start" x="283.5" y="871.7">3</tspan></text>
<text class="tk" y="1169.5"><tspan x="300" text-anchor="end" textLength="69" lengthAdjust="spacingAndGlyphs">0.0</tspan></text>
<text x="466.0" y="1221.5" class="tk" textLength="27" lengthAdjust="spacingAndGlyphs">2</text>
<text x="764.0" y="1221.5" class="tk" textLength="27" lengthAdjust="spacingAndGlyphs">3</text>
<text x="1062.0" y="1221.5" class="tk" textLength="27" lengthAdjust="spacingAndGlyphs">4</text>
<text x="1360.0" y="1221.5" class="tk" textLength="27" lengthAdjust="spacingAndGlyphs">5</text>
<text x="1659.0" y="1221.5" class="tk" textLength="27" lengthAdjust="spacingAndGlyphs">6</text>
<text class="ti" y="1302"><tspan x="909.5" textLength="36" lengthAdjust="spacingAndGlyphs">h</tspan><tspan class="gr" x="951.5" textLength="39" lengthAdjust="spacingAndGlyphs">υ</tspan><tspan class="cm" x="982" textLength="14" lengthAdjust="spacingAndGlyphs">,</tspan><tspan x="1000"> </tspan><tspan x="1016" textLength="32" lengthAdjust="spacingAndGlyphs">e</tspan><tspan x="1051.5" textLength="36" lengthAdjust="spacingAndGlyphs">V</tspan></text>
<g transform="translate(80,648) rotate(-90)">
<text class="ti"><tspan class="gr" x="-1" y="-1" textLength="35" lengthAdjust="spacingAndGlyphs">α</tspan><tspan class="cm" x="35" y="0" textLength="13" lengthAdjust="spacingAndGlyphs">,</tspan><tspan x="52" y="0"> </tspan><tspan x="70" y="0" textLength="50" lengthAdjust="spacingAndGlyphs">m</tspan><tspan class="ts" x="119.5" y="-33.5">-1</tspan></text>
</g>
</g>
</svg>
</body></html>
